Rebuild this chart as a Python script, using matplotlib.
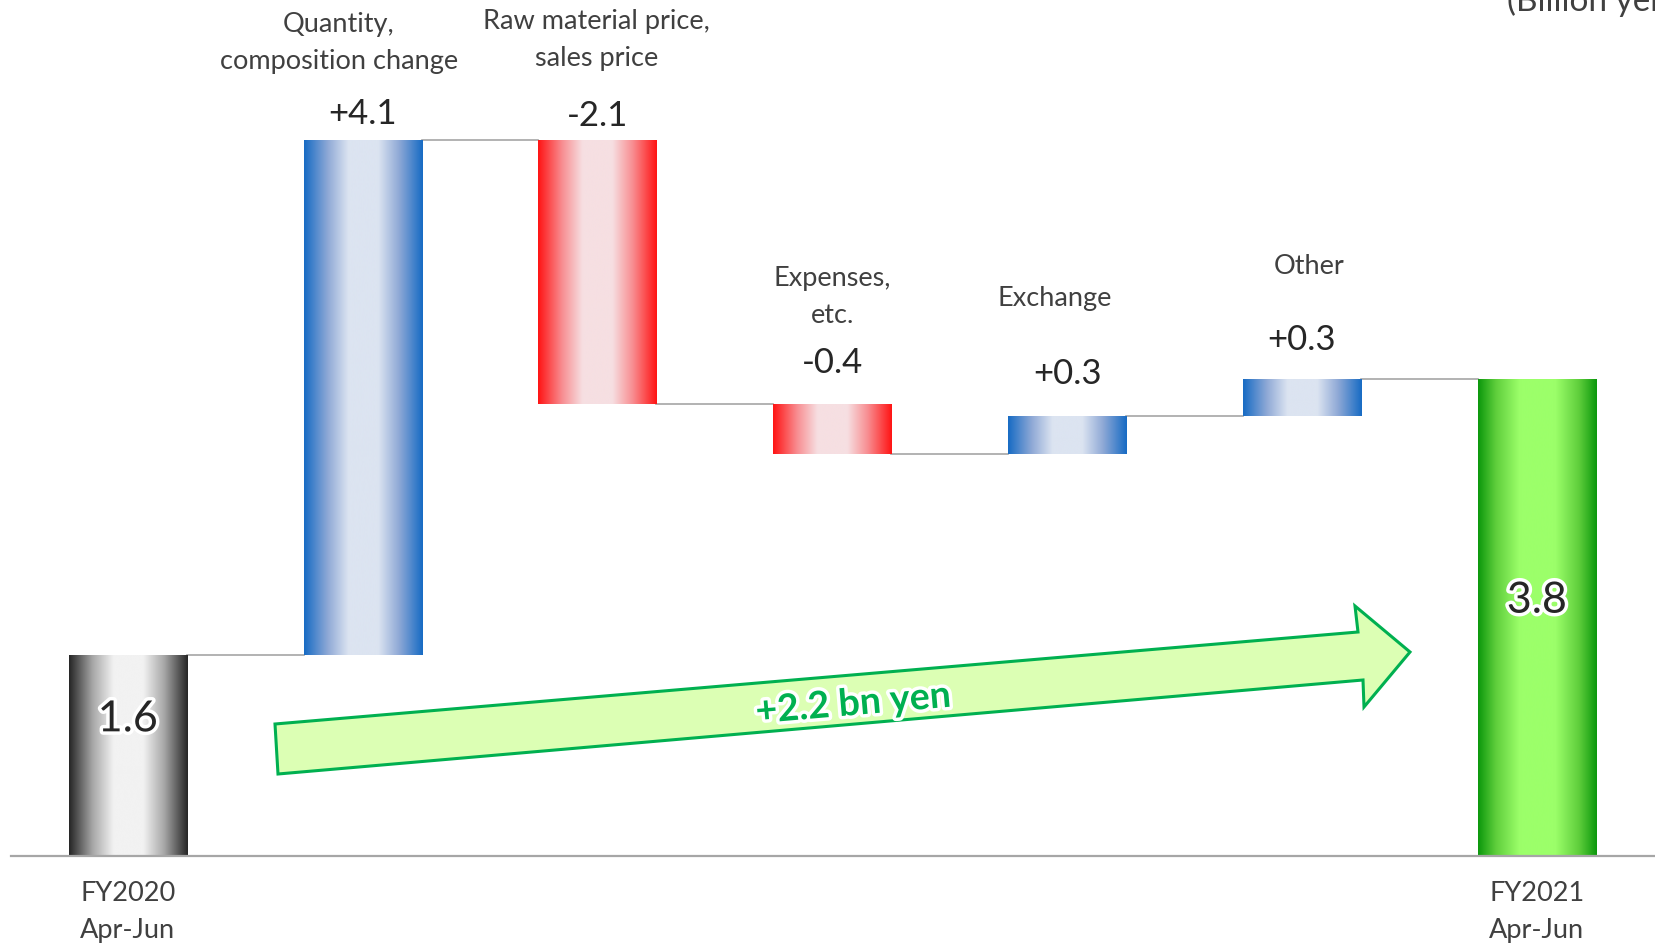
import numpy as np
import matplotlib
matplotlib.use("Agg")
import matplotlib.pyplot as plt
from matplotlib.colors import LinearSegmentedColormap
from matplotlib.patches import Polygon
import matplotlib.patheffects as pe

plt.rcParams["font.family"] = ["Lato", "DejaVu Sans"]

# operating income bridge, billion yen
categories = ["FY2020\nApr-Jun", "Quantity,\ncomposition change",
              "Raw material price,\nsales price", "Expenses,\netc.",
              "Exchange", "Other", "FY2021\nApr-Jun"]
start_value = 1.6
changes = [4.1, -2.1, -0.4, 0.3, 0.3]
end_value = 3.8
total_change_label = "+2.2 bn yen"
unit_label = "(Billion yen)"

W, H = 1655, 946
fig = plt.figure(figsize=(W / 100, H / 100), dpi=100)
ax = fig.add_axes([0, 0, 1, 1])
ax.axis("off")

XLIM = (-0.5438, 6.503)
YLIM = (-0.7166, 6.815)
BAR_W = 0.503

# running levels
bottoms, heights = [0.0], [start_value]
level = start_value
for c in changes:
    bottoms.append(level if c > 0 else level + c)
    heights.append(abs(c))
    level += c
bottoms.append(0.0)
heights.append(end_value)
x = np.arange(len(categories))

def grad_cmap(edge, light, stops=(0.0, 0.4, 0.75, 1.0), mid=None):
    mid = mid or light
    return LinearSegmentedColormap.from_list(
        "g", [(stops[0], edge), (stops[1], mid), (stops[2], light), (stops[3], light)])

cm_gray = grad_cmap("#262626", "#f2f2f2", mid="#a8a8a8")
cm_blue = grad_cmap("#176bc4", "#dce4f1", mid="#8fa9d6")
cm_red = grad_cmap("#ff1414", "#f6dfe2", mid="#f88c90")
cm_green = grad_cmap("#0c980c", "#9cff6a", stops=(0.0, 0.3, 0.7, 1.0), mid="#5fce3c")

bar_cmaps = [cm_gray] + [cm_blue if c > 0 else cm_red for c in changes] + [cm_green]

# symmetric profile: 0 at the edges, 1 at the centre
t = np.linspace(0, 1, 256)
profile = (1 - np.abs(2 * t - 1))[None, :]

bars = ax.bar(x, heights, BAR_W, bottom=bottoms, color="none", edgecolor="none", zorder=2)
for rect, cmap in zip(bars, bar_cmaps):
    x0, y0 = rect.get_x(), rect.get_y()
    im = ax.imshow(profile, cmap=cmap, vmin=0, vmax=1, aspect="auto",
                   extent=(x0, x0 + rect.get_width(), y0, y0 + rect.get_height()),
                   interpolation="bicubic", zorder=2)
    im.set_clip_path(rect)

# connectors between consecutive bars
level = start_value
for i in range(len(categories) - 1):
    ax.plot([x[i] + BAR_W / 2, x[i + 1] - BAR_W / 2], [level, level],
            color="#a6a6a6", lw=1.2, zorder=1)
    if i < len(changes):
        level += changes[i]

# baseline
ax.plot([-0.499, XLIM[1]], [0, 0], color="#a6a6a6", lw=1.6, zorder=3)

glow = [pe.withStroke(linewidth=5, foreground="white")]

# value labels of the changes, category names above them
val_dy = [26, 24, 41, 42, 39]
cat_dx = [-24, -1, 0, -12, 7]
cat_dy = [97, 100, 107, 118, 112]
for k, c in enumerate(changes):
    i = k + 1
    top = bottoms[i] + heights[i]
    ax.annotate(f"{c:+.1f}", (x[i], top), xytext=(0, val_dy[k]), textcoords="offset pixels",
                ha="center", va="center", fontsize=25, color="#262626")
    ax.annotate(categories[i], (x[i], top), xytext=(cat_dx[k], cat_dy[k]),
                textcoords="offset pixels", ha="center", va="center",
                fontsize=19.5, color="#404040", linespacing=1.6)

# totals inside the end bars
ax.text(x[0], start_value * 0.68, f"{start_value:.1f}", ha="center", va="center",
        fontsize=31, color="#262626", path_effects=glow, zorder=4)
ax.text(x[-1], end_value * 0.535, f"{end_value:.1f}", ha="center", va="center",
        fontsize=31, color="#262626", path_effects=glow, zorder=4)

for i in (0, len(categories) - 1):
    ax.annotate(categories[i], (x[i], 0), xytext=(0, -56), textcoords="offset pixels",
                ha="center", va="center", fontsize=19.5, color="#404040", linespacing=1.6)

# big arrow showing the overall increase (figure pixels, origin top-left)
arrow_px = [(275, 724), (1358, 632), (1355, 606), (1410, 652),
            (1364, 707), (1363, 680), (278, 774)]
arrow = Polygon([(px / W, 1 - py / H) for px, py in arrow_px], closed=True,
                transform=fig.transFigure, facecolor="#dcffb4", edgecolor="#00b050",
                lw=2.2, zorder=3)
ax.add_patch(arrow)
fig.text(853 / W, 1 - 704 / H, total_change_label, ha="center", va="center",
         rotation=4.9, fontsize=27, fontweight="bold", color="#00b050",
         path_effects=glow, zorder=5)

fig.text(1507 / W, 1 - 11 / H, unit_label, ha="left", va="baseline",
         fontsize=24, color="#404040")

ax.set_xlim(*XLIM)
ax.set_ylim(*YLIM)
fig.savefig("out.png", dpi=100)
